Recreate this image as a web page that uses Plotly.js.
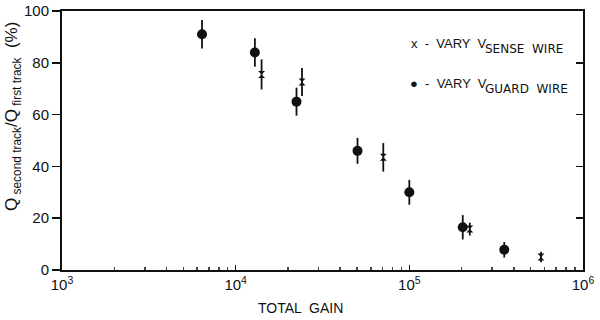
<!DOCTYPE html>
<html>
<head>
<meta charset="utf-8">
<script src="https://cdn.plot.ly/plotly-3.0.1.min.js"></script>
<style>html,body{margin:0;padding:0;background:#fff;}#chart{width:600px;height:320px;}</style>
</head>
<body>
<div id="chart"></div>
<script>
// Vary V_guard wire (circles)
const guardGain = [6400, 12900, 22400, 50300, 100000, 203000, 352000];
const guardPct  = [91, 84, 65, 46, 30, 16.5, 7.8];
const guardErr  = [5.5, 5.5, 5.4, 5, 4.8, 4.7, 3];
// Vary V_sense wire (x)
const senseGain = [14100, 24100, 70800, 223000, 573000];
const sensePct  = [75.5, 72.6, 43.5, 15.8, 5];
const senseErr  = [5.8, 5.4, 5.5, 2.5, 2];

const xTickVals = [1000, 10000, 100000, 1000000];
const xTickText = ['10<sup>3</sup>', '10<sup>4</sup>', '10<sup>5</sup>', '10<sup>6</sup>'];
const yTickVals = [0, 20, 40, 60, 80, 100];

const font = {family: 'Liberation Sans, Arial, sans-serif', color: '#111'};
const wideFont = {family: 'DejaVu Sans, sans-serif', color: '#111'};

const traces = [
  {
    x: guardGain, y: guardPct, type: 'scatter', mode: 'markers',
    marker: {symbol: 'circle', size: 10, color: '#111'},
    error_y: {type: 'data', array: guardErr, visible: true, color: '#111', thickness: 1.8, width: 0},
    showlegend: false
  },
  {
    x: senseGain, y: sensePct, type: 'scatter', mode: 'markers',
    marker: {symbol: 'hourglass', size: 7, color: '#111'},
    error_y: {type: 'data', array: senseErr, visible: true, color: '#111', thickness: 1.8, width: 0},
    showlegend: false
  },
  {x: [1000], y: [0], yaxis: 'y2', type: 'scatter', mode: 'markers', marker: {opacity: 0}, showlegend: false, hoverinfo: 'skip'}
];

const layout = {
  width: 600, height: 320,
  margin: {l: 62, r: 17, t: 11, b: 50},
  paper_bgcolor: '#fff', plot_bgcolor: '#fff',
  font: Object.assign({size: 14}, font),
  xaxis: {
    type: 'log', range: [3, 6],
    tickvals: xTickVals, ticktext: xTickText,
    ticks: 'inside', ticklen: 5, tickwidth: 1.5, tickcolor: '#111',
    minor: {ticks: 'inside', ticklen: 3, tickcolor: '#444', dtick: 'D1'},
    showgrid: false, zeroline: false,
    showline: true, linecolor: '#111', linewidth: 2, mirror: true,
    tickfont: Object.assign({size: 15}, font)
  },
  yaxis: {
    range: [0, 100], tickvals: yTickVals,
    ticks: 'outside', ticklen: 8, tickwidth: 1.5, tickcolor: '#111',
    showgrid: false, zeroline: false,
    showline: true, linecolor: '#111', linewidth: 2,
    tickfont: Object.assign({size: 15}, font)
  },
  yaxis2: {
    overlaying: 'y', side: 'right', range: [0, 100], tickvals: yTickVals,
    ticks: 'inside', ticklen: 7, tickwidth: 1.5, tickcolor: '#111',
    showticklabels: false, showgrid: false, zeroline: false,
    showline: true, linecolor: '#111', linewidth: 1.5
  },
  annotations: [
    {xref: 'paper', yref: 'paper', x: 0.666, y: 0.875, xanchor: 'left', yanchor: 'middle', showarrow: false,
     text: 'x  -  VARY  V', font: Object.assign({size: 13}, font)},
    {xref: 'paper', yref: 'paper', x: 0.808, y: 0.855, xanchor: 'left', yanchor: 'middle', showarrow: false,
     text: 'SENSE  WIRE', font: Object.assign({size: 12}, wideFont)},
    {xref: 'paper', yref: 'paper', x: 0.664, y: 0.72, xanchor: 'left', yanchor: 'middle', showarrow: false,
     text: '●  -  VARY  V', font: Object.assign({size: 13}, font)},
    {xref: 'paper', yref: 'paper', x: 0.808, y: 0.70, xanchor: 'left', yanchor: 'middle', showarrow: false,
     text: 'GUARD  WIRE', font: Object.assign({size: 12}, wideFont)},
    {xref: 'paper', yref: 'paper', x: 0.457, y: -0.11, xanchor: 'center', yanchor: 'top', showarrow: false,
     text: 'TOTAL  GAIN', font: Object.assign({size: 14}, font)},
    {xref: 'paper', yref: 'paper', x: -0.069, y: 0.591, xanchor: 'right', yanchor: 'middle', showarrow: false,
     textangle: -90, text: 'Q<sub> second track</sub>/Q<sub> first track</sub>  (%)', font: Object.assign({size: 17}, font)}
  ]
};

Plotly.newPlot('chart', traces, layout, {displayModeBar: false, staticPlot: true});
</script>
</body>
</html>
